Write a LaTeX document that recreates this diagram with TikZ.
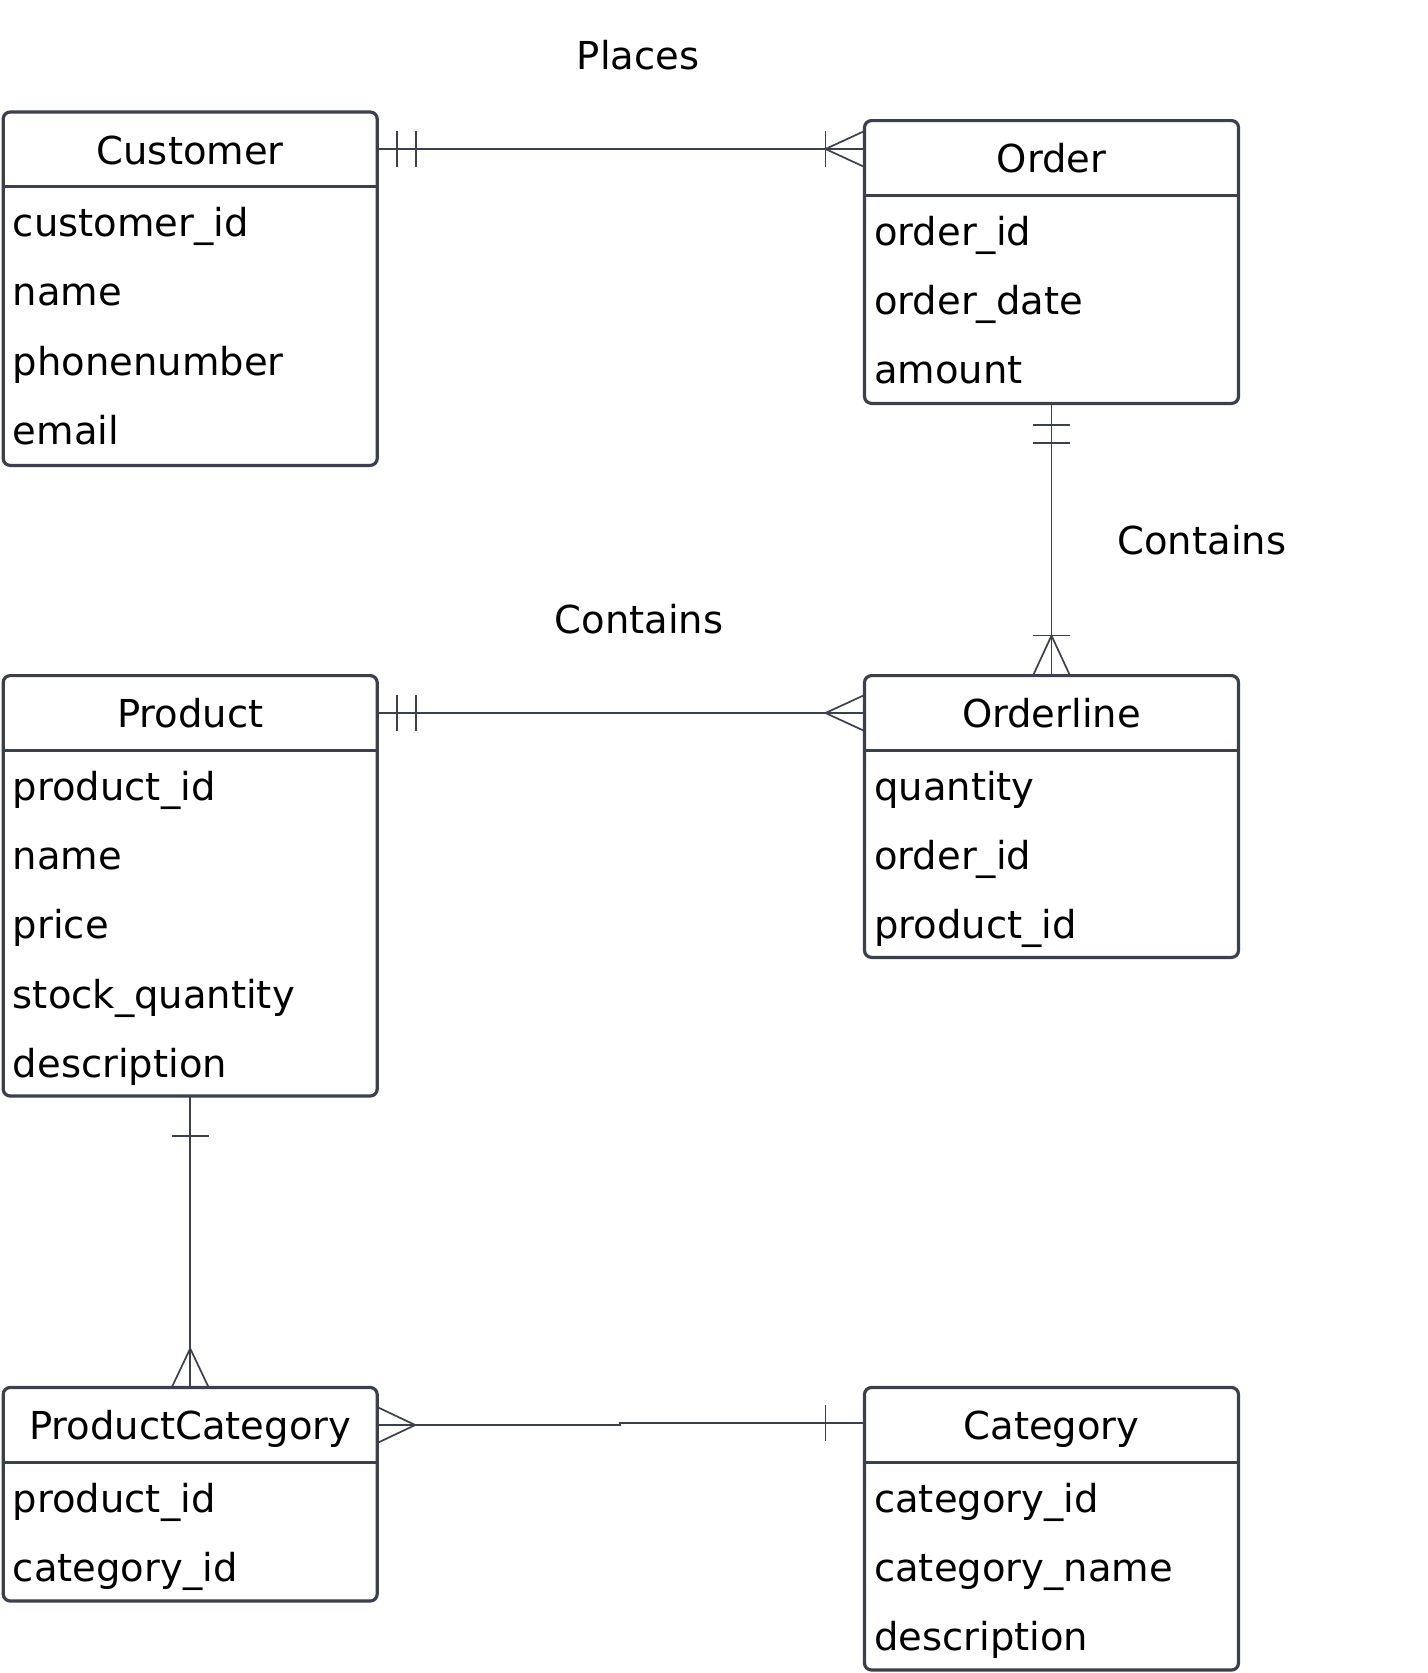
\documentclass[tikz,border=0pt]{standalone}
\usepackage{fontspec}
\setmainfont{DejaVu Sans}
\usetikzlibrary{calc}
\definecolor{bd}{HTML}{3C404B}
\tikzset{
  entity/.style={draw=bd, line width=3.2pt, rounded corners=7pt, inner sep=0pt, outer sep=0pt, anchor=north west, minimum width=374pt},
  sepline/.style={draw=bd, line width=2.8pt},
  ttl/.style={anchor=base, inner sep=0pt, font=\fontsize{38.5}{46}\selectfont},
  attr/.style={anchor=base west, inner sep=0pt, font=\fontsize{38.5}{46}\selectfont},
  rel/.style={anchor=base, inner sep=0pt, font=\fontsize{38.5}{46}\selectfont},
  conn/.style={draw=bd, line width=1.7pt},
}
\newcommand\erbox[6]{%
  \node[entity, minimum height=#4pt] (#1) at (#2,#3) {};
  \draw[sepline] ($(#1.north west)+(0,74.7)$) -- ($(#1.north east)+(0,74.7)$);
  \node[ttl] (#1-t) at ($(#1.north)+(0,52)$) {#5};
  \foreach \a [count=\i] in {#6} {
    \node[attr] (#1-\i) at ($(#1.north west)+(9.5,{124.5+69.4*(\i-1)})$) {\a};
  }
}
\begin{document}
\begin{tikzpicture}[x=1pt,y=-1pt]
\useasboundingbox (0,0) rectangle (1427,1673);
\fill[white] (0,0) rectangle (1427,1673);

\erbox{cust}{3.2}{112}{353.4}{Customer}{customer\_id,name,phonenumber,email}
\erbox{order}{864.5}{120.6}{282.8}{Order}{order\_id,order\_date,amount}
\erbox{ol}{864.5}{675.6}{281.8}{Orderline}{quantity,order\_id,product\_id}
\erbox{prod}{3.2}{675.6}{420.4}{Product}{product\_id,name,price,stock\_quantity,description}
\erbox{pc}{3.2}{1387.5}{213.5}{ProductCategory}{product\_id,category\_id}
\erbox{cat}{864.5}{1387.5}{282.5}{Category}{category\_id,category\_name,description}

% labels
\node[rel] (lplaces) at (638,69.6) {Places};
\node[rel] (lcont1) at (639,633) {Contains};
\node[rel] (lcont2) at (1201.8,554.6) {Contains};

% Customer -- Order
\coordinate (ya) at (0,149);
\draw[conn] (cust.east |- ya) -- (order.west |- ya);
\draw[conn] ($(cust.east |- ya)+(20,-18)$) -- ++(0,36);
\draw[conn] ($(cust.east |- ya)+(39,-18)$) -- ++(0,36);
\draw[conn] ($(order.west |- ya)+(-39,-18)$) -- ++(0,36);
\draw[conn] ($(order.west |- ya)+(0,-18)$) -- ($(order.west |- ya)+(-39,0)$) -- ($(order.west |- ya)+(0,18)$);

% Order -- Orderline
\draw[conn] (order.south) -- (ol.north);
\draw[conn] ($(order.south)+(-18.5,21.4)$) -- ++(37,0);
\draw[conn] ($(order.south)+(-18.5,39.6)$) -- ++(37,0);
\draw[conn] ($(ol.north)+(-18.5,-40)$) -- ++(37,0);
\draw[conn] ($(ol.north)+(-18.5,0)$) -- ($(ol.north)+(0,-40)$) -- ($(ol.north)+(18.5,0)$);

% Product -- Orderline
\coordinate (yb) at (0,713);
\draw[conn] (prod.east |- yb) -- (ol.west |- yb);
\draw[conn] ($(prod.east |- yb)+(20,-18)$) -- ++(0,36);
\draw[conn] ($(prod.east |- yb)+(39,-18)$) -- ++(0,36);
\draw[conn] ($(ol.west |- yb)+(0,-18)$) -- ($(ol.west |- yb)+(-39,0)$) -- ($(ol.west |- yb)+(0,18)$);

% Product -- ProductCategory
\draw[conn] (prod.south) -- (pc.north);
\draw[conn] ($(prod.south)+(-18.5,40)$) -- ++(37,0);
\draw[conn] ($(pc.north)+(-18.5,0)$) -- ($(pc.north)+(0,-39)$) -- ($(pc.north)+(18.5,0)$);

% ProductCategory -- Category
\coordinate (yc) at (0,1425);
\coordinate (yd) at (0,1423.3);
\coordinate (xm) at (620,0);
\draw[conn] (pc.east |- yc) -- (xm |- yc) -- (xm |- yd) -- (cat.west |- yd);
\draw[conn] ($(pc.east |- yc)+(0,-18)$) -- ($(pc.east |- yc)+(38,0)$) -- ($(pc.east |- yc)+(0,18)$);
\draw[conn] ($(cat.west |- yd)+(-39,-18)$) -- ++(0,36);
\end{tikzpicture}
\end{document}
